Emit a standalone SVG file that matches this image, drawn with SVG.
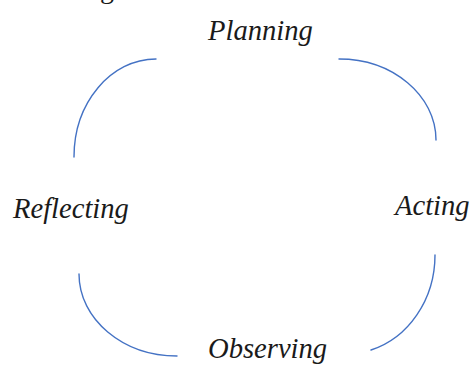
<svg xmlns="http://www.w3.org/2000/svg" width="471" height="365" viewBox="0 0 471 365">
  <style>
    .label { font-family: "Liberation Serif", "Times New Roman", serif; font-style: italic; font-size: 28.6px; fill: #1a1a1a; }
    .edge { fill: none; stroke: #4472C4; stroke-width: 1.4; stroke-linecap: round; }
  </style>
  <rect width="471" height="365" fill="#ffffff"/>
  <!-- descender of a line of text clipped at the top edge -->
  <text x="100" y="-2" font-family="Liberation Serif, serif" font-size="28" fill="#1a1a1a">g</text>

  <g id="connectors">
    <path class="edge" d="M156,59 C110.7,59 74,102.9 74,157"/>
    <path class="edge" d="M339,59 C392.5,59 436,95.3 436,140"/>
    <path class="edge" d="M435,255 C435,300 408,338 371,350"/>
    <path class="edge" d="M79,274 C79,319.3 122.9,356 177,356"/>
  </g>

  <g id="planning"><text class="label" x="208" y="40">Planning</text></g>
  <g id="acting"><text class="label" x="395" y="215">Acting</text></g>
  <g id="observing"><text class="label" x="208" y="358">Observing</text></g>
  <g id="reflecting"><text class="label" x="13" y="218">Reflecting</text></g>
</svg>
